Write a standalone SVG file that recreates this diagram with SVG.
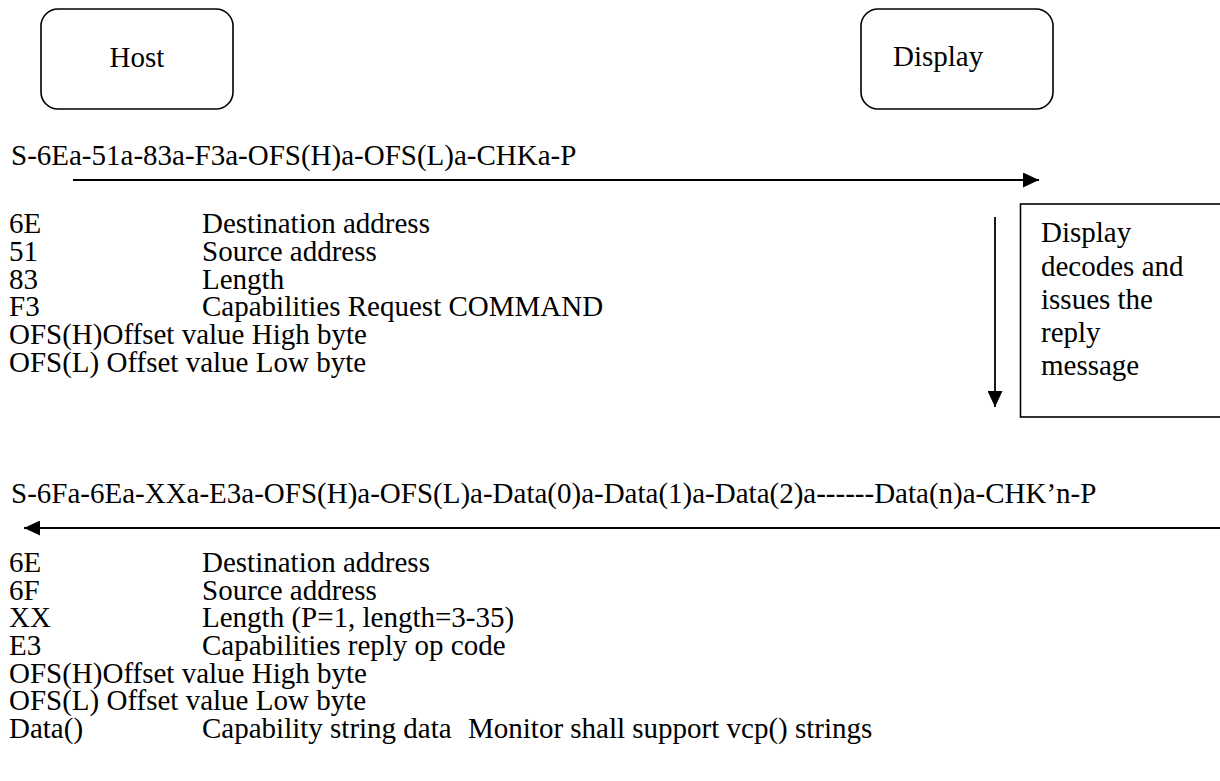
<svg xmlns="http://www.w3.org/2000/svg" width="1220" height="781" viewBox="0 0 1220 781">
  <style>
    text { font-family: "Liberation Serif", "Times New Roman", serif; font-size: 29px; fill: #000; }
    .box { fill: #fff; stroke: #000; stroke-width: 1.6; }
    .conn { stroke: #000; stroke-width: 1.8; fill: none; }
  </style>
  <defs>
    <marker id="arrow" markerUnits="userSpaceOnUse" markerWidth="16" markerHeight="15" refX="16" refY="7.5" orient="auto">
      <path d="M0,0 L16,7.5 L0,15 Z" fill="#000"/>
    </marker>
  </defs>
  <rect width="1220" height="781" fill="#fff"/>

  <g id="host">
    <rect class="box" x="41" y="9" width="192" height="100" rx="17" ry="17"/>
    <text x="137" y="67" text-anchor="middle">Host</text>
  </g>

  <g id="display">
    <rect class="box" x="861" y="9" width="192" height="100" rx="17" ry="17"/>
    <text x="893" y="66">Display</text>
  </g>

  <g id="note">
    <rect class="box" x="1020.5" y="204" width="205" height="213"/>
    <text x="1041" y="242">Display</text>
    <text x="1041" y="276">decodes and</text>
    <text x="1041" y="309">issues the</text>
    <text x="1041" y="342">reply</text>
    <text x="1041" y="375">message</text>
  </g>

  <g id="connectors">
    <line class="conn" x1="73" y1="180" x2="1039" y2="180" marker-end="url(#arrow)"/>
    <line class="conn" x1="995" y1="217" x2="995" y2="407" marker-end="url(#arrow)"/>
    <line class="conn" x1="1220" y1="528" x2="24" y2="528" marker-end="url(#arrow)"/>
  </g>

  <g id="request">
    <text x="11" y="165">S-6Ea-51a-83a-F3a-OFS(H)a-OFS(L)a-CHKa-P</text>
    <text x="9" y="233">6E</text><text x="202" y="233">Destination address</text>
    <text x="9" y="261">51</text><text x="202" y="261">Source address</text>
    <text x="9" y="289">83</text><text x="202" y="289">Length</text>
    <text x="9" y="316">F3</text><text x="202" y="316">Capabilities Request COMMAND</text>
    <text x="9" y="344">OFS(H)Offset value High byte</text>
    <text x="9" y="372">OFS(L) Offset value Low byte</text>
  </g>

  <g id="reply">
    <text x="11" y="503">S-6Fa-6Ea-XXa-E3a-OFS(H)a-OFS(L)a-Data(0)a-Data(1)a-Data(2)a------Data(n)a-CHK’n-P</text>
    <text x="9" y="572">6E</text><text x="202" y="572">Destination address</text>
    <text x="9" y="600">6F</text><text x="202" y="600">Source address</text>
    <text x="9" y="627">XX</text><text x="202" y="627">Length (P=1, length=3-35)</text>
    <text x="9" y="655">E3</text><text x="202" y="655">Capabilities reply op code</text>
    <text x="9" y="683">OFS(H)Offset value High byte</text>
    <text x="9" y="710">OFS(L) Offset value Low byte</text>
    <text x="9" y="738">Data()</text><text x="202" y="738">Capability string data<tspan x="468">Monitor shall support vcp() strings</tspan></text>
  </g>
</svg>
